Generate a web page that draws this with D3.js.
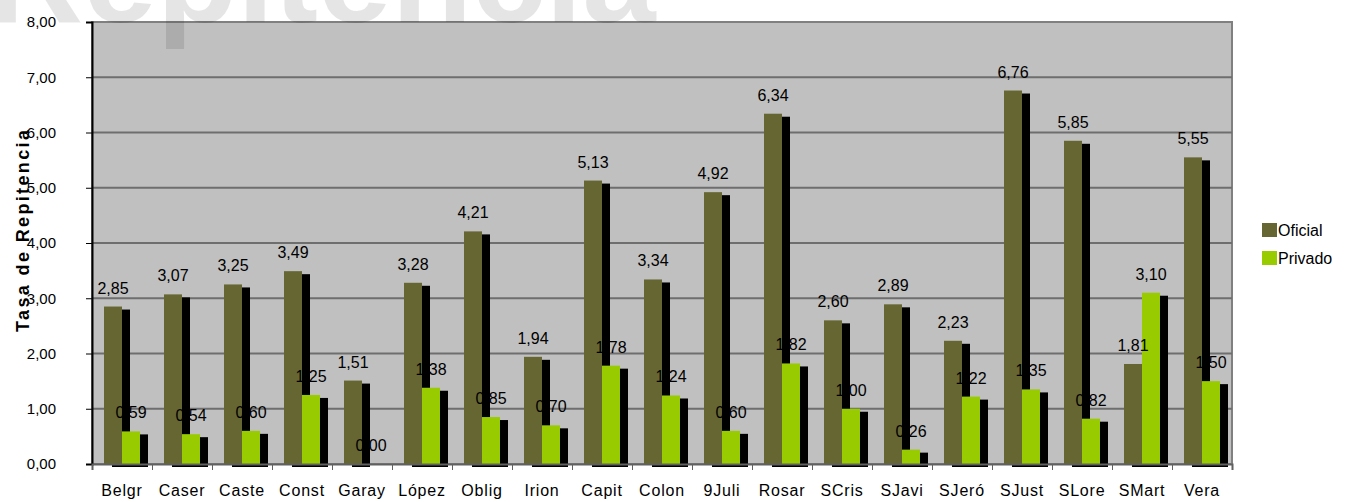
<!DOCTYPE html>
<html>
<head>
<meta charset="utf-8">
<script src="https://cdn.jsdelivr.net/npm/d3@7"></script>
<style>
  body { margin: 0; background: #fff; }
  svg { display: block; font-family: "Liberation Sans", Arial, sans-serif; }
</style>
</head>
<body>
<div id="chart"></div>
<script>
const categories = ["Belgr", "Caser", "Caste", "Const", "Garay", "López", "Oblig", "Irion", "Capit", "Colon",
  "9Juli", "Rosar", "SCris", "SJavi", "SJeró", "SJust", "SLore", "SMart", "Vera"];
const oficial = [2.85, 3.07, 3.25, 3.49, 1.51, 3.28, 4.21, 1.94, 5.13, 3.34, 4.92, 6.34, 2.60, 2.89, 2.23, 6.76, 5.85, 1.81, 5.55];
const privado = [0.59, 0.54, 0.60, 1.25, 0.00, 1.38, 0.85, 0.70, 1.78, 1.24, 0.60, 1.82, 1.00, 0.26, 1.22, 1.35, 0.82, 3.10, 1.50];
const seriesNames = ["Oficial", "Privado"];
const yTicks = [0, 1, 2, 3, 4, 5, 6, 7, 8];

const W = 1346, H = 502;
const plotL = 92, plotR = 1232, plotT = 22, plotB = 464;
const colors = {Oficial: "#666633", Privado: "#99cc00"};
const fmt = v => v.toFixed(2).replace(".", ",");

const svg = d3.select("#chart").append("svg").attr("width", W).attr("height", H);

const x0 = d3.scaleBand().domain(categories).range([plotL, plotR]).paddingInner(0.4).paddingOuter(0.2);
const x1 = d3.scaleBand().domain(seriesNames).range([0, x0.bandwidth()]);
const xi = d3.scaleLinear().domain([0, categories.length]).range([plotL, plotR]);
const y = d3.scaleLinear().domain([0, 8]).range([plotB, plotT]);

// plot background
svg.append("rect")
  .attr("x", plotL).attr("y", plotT)
  .attr("width", plotR - plotL).attr("height", plotB - plotT)
  .attr("fill", "#c0c0c0")
  .attr("stroke", "#808080").attr("stroke-width", 2);

// gridlines
svg.append("g")
  .selectAll("line")
  .data(yTicks.filter(d => d > 0 && d < 8))
  .join("line")
  .attr("x1", plotL).attr("x2", plotR)
  .attr("y1", d => y(d)).attr("y2", d => y(d))
  .attr("stroke", "#6e6e6e").attr("stroke-width", 2);

// bars with black drop shadow
const rows = categories.map((c, i) => ({cat: c, values: [
  {key: "Oficial", value: oficial[i]},
  {key: "Privado", value: privado[i]}
]}));

const groups = svg.append("g").selectAll("g")
  .data(rows)
  .join("g")
  .attr("transform", d => `translate(${x0(d.cat)},0)`);

groups.each(function(d) {
  const g = d3.select(this);
  d.values.forEach(v => {
    g.append("rect")
      .attr("x", x1(v.key) + 8)
      .attr("y", y(v.value) + 3)
      .attr("width", x1.bandwidth())
      .attr("height", plotB - y(v.value))
      .attr("fill", "#000");
    g.append("rect")
      .attr("x", x1(v.key))
      .attr("y", y(v.value))
      .attr("width", x1.bandwidth())
      .attr("height", plotB - y(v.value))
      .attr("fill", colors[v.key]);
  });
});

// axes
const yAxis = svg.append("g")
  .attr("transform", `translate(${plotL},0)`)
  .call(d3.axisLeft(y).tickValues(yTicks).tickFormat(fmt).tickSize(6).tickPadding(30));
yAxis.select("path.domain").attr("stroke", "#000").attr("stroke-width", 2);
yAxis.selectAll("line").attr("stroke", "#000");
yAxis.selectAll("text").attr("font-size", 15).attr("fill", "#000")
  .attr("font-family", "Liberation Sans, Arial, sans-serif");

const xAxis = svg.append("g")
  .attr("transform", `translate(0,${plotB})`)
  .call(d3.axisBottom(xi).tickValues(d3.range(categories.length + 1)).tickFormat("").tickSize(6));
xAxis.select("path.domain").attr("stroke", "#606060").attr("stroke-width", 2);
xAxis.selectAll("line").attr("stroke", "#606060");

const xLabels = svg.append("g")
  .attr("transform", `translate(0,${plotB})`)
  .call(d3.axisBottom(x0).tickSize(0).tickPadding(21));
xLabels.select("path.domain").remove();
xLabels.selectAll("text").attr("font-size", 16).attr("fill", "#000")
  .attr("letter-spacing", "0.8px")
  .attr("font-family", "Liberation Sans, Arial, sans-serif");

// value labels
groups.each(function(d) {
  d3.select(this).selectAll("text.val")
    .data(d.values)
    .join("text")
    .attr("class", "val")
    .attr("x", v => x1(v.key) + x1.bandwidth() / 2)
    .attr("y", v => y(v.value) - 13)
    .attr("text-anchor", "middle")
    .attr("font-size", 16)
    .attr("fill", "#000")
    .text(v => fmt(v.value));
});

// y axis title
svg.append("text")
  .attr("transform", "translate(29,231) rotate(-90)")
  .attr("text-anchor", "middle")
  .attr("font-size", 18)
  .attr("font-weight", "bold")
  .attr("textLength", 202)
  .attr("lengthAdjust", "spacing")
  .text("Tasa de Repitencia");

// legend
const legend = svg.append("g").attr("transform", "translate(1262,223)");
seriesNames.forEach((s, i) => {
  legend.append("rect")
    .attr("x", 0).attr("y", i * 28)
    .attr("width", 15).attr("height", 14)
    .attr("fill", colors[s]);
  legend.append("text")
    .attr("x", 16).attr("y", i * 28 + 13)
    .attr("font-size", 16)
    .text(s);
});

// faded chart title, cut off at the top
svg.append("text")
  .attr("x", -12).attr("y", 22)
  .attr("font-size", 132)
  .attr("font-weight", "bold")
  .attr("fill", "#000")
  .attr("fill-opacity", 0.1)
  .text("Repitencia");
</script>
</body>
</html>
